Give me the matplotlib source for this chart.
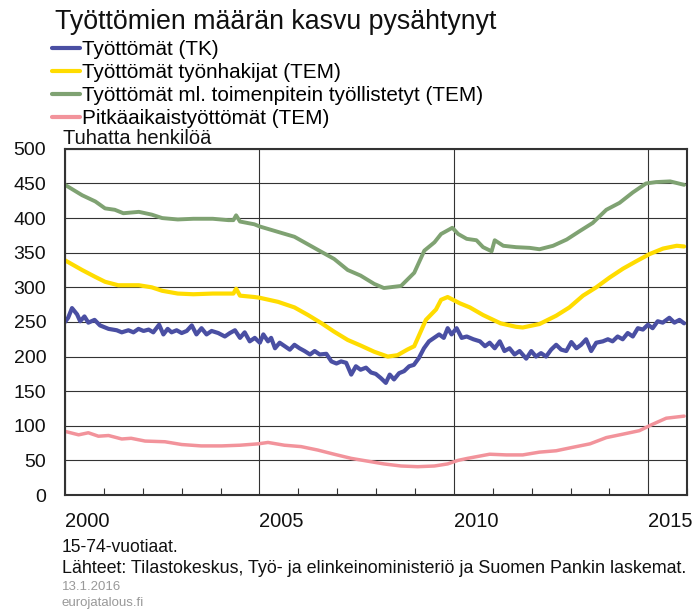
import matplotlib
matplotlib.use("Agg")
import matplotlib.pyplot as plt
from matplotlib.ticker import MultipleLocator

plt.rcParams["font.family"] = ["Liberation Sans", "DejaVu Sans"]

# Työttömät (TK), thousands
tk_years = [2000.0, 2000.08, 2000.18, 2000.31, 2000.39, 2000.5, 2000.6, 2000.76, 2000.9,
            2001.12, 2001.33, 2001.46, 2001.63, 2001.76, 2001.89, 2002.02, 2002.15,
            2002.27, 2002.42, 2002.53, 2002.64, 2002.74, 2002.87, 2003.0, 2003.13,
            2003.26, 2003.38, 2003.51, 2003.64, 2003.77, 2003.94, 2004.11, 2004.24,
            2004.37, 2004.5, 2004.62, 2004.75, 2004.88, 2005.01, 2005.1, 2005.22,
            2005.3, 2005.4, 2005.52, 2005.65, 2005.78, 2005.9, 2006.03, 2006.16,
            2006.3, 2006.42, 2006.55, 2006.72, 2006.85, 2006.98, 2007.1, 2007.23,
            2007.36, 2007.48, 2007.6, 2007.74, 2007.87, 2007.99, 2008.12, 2008.25,
            2008.35, 2008.46, 2008.59, 2008.72, 2008.85, 2008.97, 2009.1, 2009.23,
            2009.36, 2009.49, 2009.62, 2009.74, 2009.84, 2009.94, 2010.07, 2010.2,
            2010.33, 2010.5, 2010.67, 2010.8, 2010.92, 2011.05, 2011.18, 2011.3,
            2011.43, 2011.56, 2011.69, 2011.86, 2011.99, 2012.11, 2012.24, 2012.37,
            2012.5, 2012.63, 2012.76, 2012.89, 2013.02, 2013.15, 2013.27, 2013.4,
            2013.53, 2013.66, 2013.83, 2013.96, 2014.08, 2014.21, 2014.34, 2014.47,
            2014.6, 2014.73, 2014.86, 2014.99, 2015.11, 2015.24, 2015.37, 2015.54,
            2015.67, 2015.8, 2015.92]
tk_values = [250, 256, 270, 261, 251, 258, 249, 253, 245,
             240, 238, 235, 238, 235, 240, 237, 239,
             235, 246, 232, 240, 235, 238, 234, 237,
             245, 232, 241, 232, 237, 234, 229, 234,
             238, 227, 235, 222, 227, 220, 232, 222,
             227, 212, 220, 215, 210, 217, 212, 208,
             203, 208, 203, 204, 193, 190, 193, 191,
             174, 186, 181, 184, 177, 175, 169, 162,
             174, 167, 176, 179, 186, 188, 198, 212,
             222, 227, 232, 227, 241, 232, 241, 227,
             229, 225, 222, 215, 220, 212, 222, 208,
             212, 203, 208, 197, 208, 200, 205, 200,
             210, 217, 210, 208, 221, 212, 217, 225,
             208, 220, 222, 225, 222, 229, 225, 234,
             229, 241, 239, 246, 241, 251, 249, 256,
             249, 253, 248]

# Työttömät työnhakijat (TEM)
tem_years = [2000.0, 2000.44, 2000.78, 2001.03, 2001.37, 2001.9, 2002.23, 2002.5, 2002.9,
             2003.3, 2003.8, 2004.2, 2004.33, 2004.4, 2004.5, 2004.87, 2005.0, 2005.48,
             2005.9, 2006.25, 2006.6, 2006.92, 2007.27, 2007.6, 2007.95, 2008.3,
             2008.55, 2008.8, 2008.98, 2009.28, 2009.54, 2009.67, 2009.84, 2010.15,
             2010.41, 2010.75, 2011.2, 2011.6, 2011.77, 2012.2, 2012.63, 2012.97,
             2013.32, 2013.66, 2014.0, 2014.35, 2014.7, 2015.03, 2015.38, 2015.73,
             2015.92]
tem_values = [339, 325, 315, 308, 303, 303, 300, 295, 291,
              290, 291, 291, 291, 298, 288, 286, 285, 279,
              271, 260, 248, 236, 224, 216, 207, 200,
              202, 210, 215, 253, 268, 282, 286, 277,
              271, 260, 248, 243, 242, 247, 259, 271,
              288, 300, 314, 327, 338, 348, 356, 360,
              359]

# Työttömät ml. toimenpitein työllistetyt (TEM)
aktiv_years = [2000.0, 2000.44, 2000.78, 2001.03, 2001.28, 2001.5, 2001.9, 2002.23, 2002.5,
               2002.9, 2003.3, 2003.8, 2004.2, 2004.33, 2004.4, 2004.5, 2004.87, 2005.0,
               2005.48, 2005.9, 2006.25, 2006.6, 2006.92, 2007.27, 2007.6, 2007.95,
               2008.2, 2008.64, 2008.98, 2009.24, 2009.5, 2009.67, 2009.96, 2010.11,
               2010.33, 2010.58, 2010.75, 2010.97, 2011.05, 2011.27, 2011.6, 2011.95,
               2012.2, 2012.55, 2012.9, 2013.23, 2013.57, 2013.92, 2014.26, 2014.6,
               2014.94, 2015.2, 2015.56, 2015.92]
aktiv_values = [448, 433, 424, 414, 412, 407, 409, 405, 400,
                398, 399, 399, 397, 397, 404, 395, 391, 388,
                380, 373, 362, 351, 341, 325, 317, 305,
                299, 302, 321, 353, 365, 377, 386, 377,
                370, 368, 358, 352, 368, 360, 358, 357,
                355, 360, 369, 381, 393, 412, 422, 437,
                450, 452, 453, 448]

# Pitkäaikaistyöttömät (TEM)
long_years = [2000.0, 2000.35, 2000.6, 2000.86, 2001.12, 2001.46, 2001.7, 2002.06, 2002.57,
              2003.0, 2003.5, 2004.03, 2004.5, 2004.97, 2005.22, 2005.64, 2006.07,
              2006.5, 2006.92, 2007.36, 2007.78, 2008.2, 2008.64, 2009.07, 2009.5,
              2009.84, 2010.1, 2010.35, 2010.92, 2011.35, 2011.77, 2012.2, 2012.63,
              2013.06, 2013.5, 2013.92, 2014.35, 2014.77, 2015.1, 2015.46, 2015.92]
long_values = [92, 87, 90, 85, 86, 81, 82, 78, 77,
               73, 71, 71, 72, 74, 76, 72, 70,
               65, 59, 53, 49, 45, 42, 41, 42,
               45, 50, 53, 59, 58, 58, 62, 64,
               69, 74, 83, 88, 93, 102, 111, 114]

labels = ["Työttömät (TK)", "Työttömät työnhakijat (TEM)",
          "Työttömät ml. toimenpitein työllistetyt (TEM)", "Pitkäaikaistyöttömät (TEM)"]
colors = ["#4a4fa3", "#ffdc00", "#7fa272", "#f2939b"]
widths = [3.0, 3.0, 2.8, 2.5]

fig = plt.figure(figsize=(6.96, 6.15), dpi=100)
ax = fig.add_axes([0.0934, 0.195, 0.894, 0.563])

series = [(tk_years, tk_values), (tem_years, tem_values),
          (aktiv_years, aktiv_values), (long_years, long_values)]
handles = []
for (xs, ys), lab, c, w in zip(series, labels, colors, widths):
    h, = ax.plot(xs, ys, color=c, lw=w, label=lab, solid_capstyle="round")
    handles.append(h)

ax.set_xlim(2000, 2016)
ax.set_ylim(0, 500)
ax.yaxis.set_major_locator(MultipleLocator(50))
ax.set_xticks([2000, 2005, 2010, 2015])
ax.set_xticklabels(["2000", "2005", "2010", "2015"], ha="left")
ax.xaxis.set_minor_locator(MultipleLocator(1))
ax.grid(True, which="major", color="#333333", lw=0.8)
ax.set_axisbelow(True)
ax.tick_params(axis="both", which="major", length=0, colors="#111111")
ax.tick_params(axis="x", which="major", pad=12, labelsize=14.5)
ax.tick_params(axis="x", which="minor", direction="in", length=5, width=0.8, color="#333333")
ax.tick_params(axis="y", pad=13.5, labelsize=14)
for sp in ax.spines.values():
    sp.set_color("#333333")
    sp.set_linewidth(1.5)

ax.text(-0.003, 1.003, "Tuhatta henkilöä", transform=ax.transAxes, fontsize=14.5,
        ha="left", va="bottom", color="#111111")

fig.text(0.079, 0.964, "Työttömien määrän kasvu pysähtynyt", fontsize=19.3,
         ha="left", va="center", color="#111111")
leg = fig.legend(handles=handles, loc="upper left", bbox_to_anchor=(0.0747, 0.935),
                 frameon=False, fontsize=14.9, handlelength=1.36, handletextpad=0.1,
                 labelspacing=0.2, borderaxespad=0, borderpad=0)
for line in leg.get_lines():
    line.set_linewidth(3)

fig.text(0.089, 0.109, "15-74-vuotiaat.", fontsize=12.65, ha="left", va="center",
         color="#111111")
fig.text(0.089, 0.076, "Lähteet: Tilastokeskus, Työ- ja elinkeinoministeriö ja Suomen Pankin laskemat.",
         fontsize=12.9, ha="left", va="center", color="#111111")
fig.text(0.089, 0.045, "13.1.2016", fontsize=9.5, ha="left", va="center", color="#999999")
fig.text(0.089, 0.019, "eurojatalous.fi", fontsize=9.5, ha="left", va="center",
         color="#999999")

fig.savefig("out.png", dpi=100, facecolor="white")
